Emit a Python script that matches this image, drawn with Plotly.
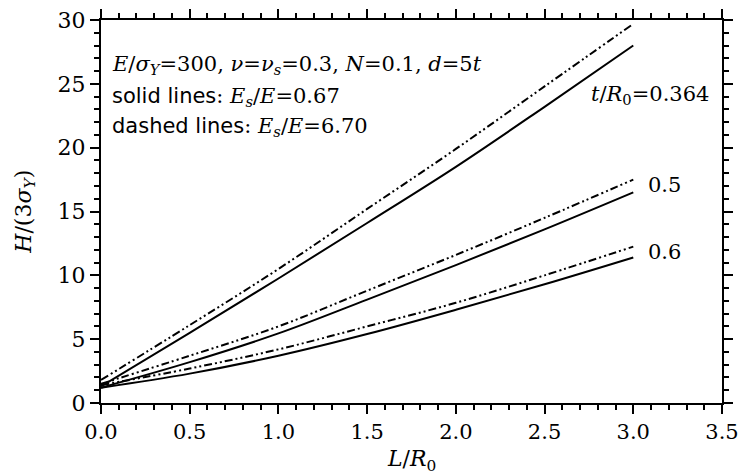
import plotly.graph_objects as go

L = [0.0, 0.5, 1.0, 1.5, 2.0, 2.5, 3.0]
solid_0364 = [1.3, 5.5, 9.75, 14.1, 18.5, 23.2, 28.0]
dashed_0364 = [1.8, 6.1, 10.5, 15.2, 19.9, 24.8, 29.7]
solid_05 = [1.2, 3.2, 5.45, 8.1, 10.8, 13.6, 16.5]
dashed_05 = [1.5, 3.7, 6.0, 8.8, 11.6, 14.5, 17.5]
solid_06 = [1.2, 2.3, 3.7, 5.4, 7.3, 9.3, 11.4]
dashed_06 = [1.4, 2.7, 4.2, 6.0, 7.85, 10.0, 12.25]

SERIF = "DejaVu Serif"
SANS = "DejaVu Sans"
DASH = "8px,3px,2px,3px,2px,3px"

fig = go.Figure()
for ys, dash in [(solid_0364, "solid"), (dashed_0364, DASH),
                 (solid_05, "solid"), (dashed_05, DASH),
                 (solid_06, "solid"), (dashed_06, DASH)]:
    fig.add_trace(go.Scatter(x=L, y=ys, mode="lines", showlegend=False,
                             line=dict(color="black", width=2, dash=dash, shape="spline")))
# invisible trace for mirrored axes
fig.add_trace(go.Scatter(x=[0], y=[0], xaxis="x2", yaxis="y2", mode="markers",
                         marker=dict(opacity=0), showlegend=False, hoverinfo="skip"))

tick_common = dict(ticks="outside", tickcolor="black", tickwidth=1.5, ticklen=9,
                   showgrid=False, zeroline=False, automargin=False)
line_common = dict(showline=True, linecolor="black", linewidth=2)
tfont = dict(family=SERIF, size=22, color="black")
xfont = dict(family=SERIF, size=21, color="black")
afont = dict(family=SERIF, size=21, color="black")

fig.update_layout(
    xaxis=dict(range=[0, 3.5], dtick=0.5, tick0=0, tickformat=".1f", ticklabeloverflow="allow",
               minor=dict(dtick=0.1, ticks="outside", ticklen=5, tickcolor="black", tickwidth=1.5),
               tickfont=xfont, **tick_common, **line_common),
    yaxis=dict(range=[0, 30], dtick=5, tick0=0, ticklabeloverflow="allow",
               minor=dict(dtick=1, ticks="outside", ticklen=5, tickcolor="black", tickwidth=1.5),
               tickfont=tfont, **tick_common, **line_common),
    xaxis2=dict(range=[0, 3.5], dtick=0.5, tick0=0, overlaying="x", side="top", anchor="y",
                showticklabels=False,
                minor=dict(dtick=0.1, ticks="outside", ticklen=5, tickcolor="black", tickwidth=1.5),
                **tick_common, **line_common),
    yaxis2=dict(range=[0, 30], dtick=5, tick0=0, overlaying="y", side="right", anchor="x",
                showticklabels=False,
                minor=dict(dtick=1, ticks="outside", ticklen=5, tickcolor="black", tickwidth=1.5),
                **tick_common, **line_common),
)

def ann(x, y, text, xanchor="left"):
    fig.add_annotation(x=x, y=y, xref="x", yref="y", text=text, showarrow=False,
                       xanchor=xanchor, yanchor="middle", font=afont)

ann(0.05, 26.5, "<i>E</i>/<i>σ</i><sub><i>Y</i></sub>=300, <i>ν</i>=<i>ν</i><sub><i>s</i></sub>=0.3, <i>N</i>=0.1, <i>d</i>=5<i>t</i>")
ann(0.05, 24.0, "<span style='font-family:DejaVu Sans'>solid lines</span>: <i>E</i><sub><i>s</i></sub>/<i>E</i>=0.67")
ann(0.05, 21.6, "<span style='font-family:DejaVu Sans'>dashed lines</span>: <i>E</i><sub><i>s</i></sub>/<i>E</i>=6.70")
ann(3.44, 24.1, "<i>t</i>/<i>R</i><sub>0</sub>=0.364", xanchor="right")
ann(3.07, 17.1, "0.5")
ann(3.07, 11.8, "0.6")

# axis titles
fig.add_annotation(x=0.5, y=-0.15, xref="paper", yref="paper", showarrow=False,
                   text="<i>L</i>/<i>R</i><sub>0</sub>", font=tfont, xanchor="center", yanchor="middle")
fig.add_annotation(x=-0.122, y=0.5, xref="paper", yref="paper", showarrow=False, textangle=-90,
                   text="<i>H</i>/(3<i>σ</i><sub><i>Y</i></sub>)", font=tfont, xanchor="center", yanchor="middle")

fig.update_layout(width=739, height=476, margin=dict(l=101, r=17, t=20, b=73),
                  paper_bgcolor="white", plot_bgcolor="white")
fig.write_html("out.html")
